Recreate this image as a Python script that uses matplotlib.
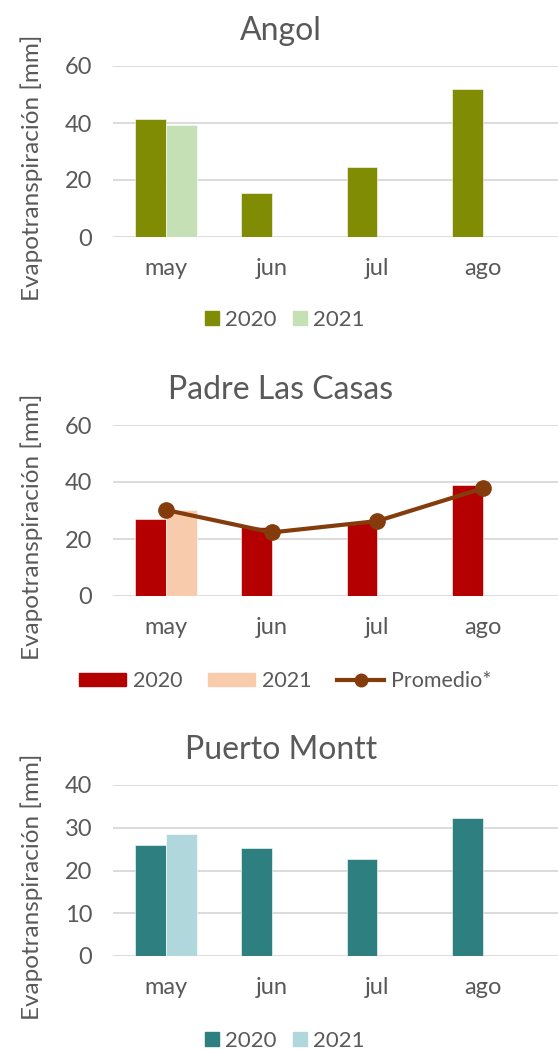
import numpy as np
import matplotlib.pyplot as plt
from matplotlib.lines import Line2D
from matplotlib.patches import Patch

plt.rcParams['font.family'] = ['Lato', 'DejaVu Sans']

meses = ['may', 'jun', 'jul', 'ago']

angol_2020 = [41.4, 15.3, 24.4, 52.0]
angol_2021 = [39.3, np.nan, np.nan, np.nan]

plc_2020 = [27.0, 24.1, 26.0, 38.8]
plc_2021 = [30.2, np.nan, np.nan, np.nan]
plc_promedio = [30.2, 22.3, 26.3, 37.8]

pm_2020 = [25.9, 25.3, 22.8, 32.3]
pm_2021 = [28.5, np.nan, np.nan, np.nan]

W, H = 558, 1049
gris = '#595959'
fig = plt.figure(figsize=(W / 100, H / 100), dpi=100)

def px(x0, y_top, x1, y_bot):
    return [x0 / W, 1 - y_bot / H, (x1 - x0) / W, (y_bot - y_top) / H]

def panel(y_top, y_bot, titulo, ymax, ystep, s20, s21, c20, c21, prom=None):
    ax = fig.add_axes(px(113, y_top, 558, y_bot))
    x = np.arange(len(meses))
    w = 0.29
    ax.bar(x, s20, width=-w, align='edge', color=c20, edgecolor='white', linewidth=0.4, zorder=2)
    ax.bar(x, s21, width=w, align='edge', color=c21, edgecolor='white', linewidth=0.4, zorder=2)
    if prom is not None:
        ax.plot(x, prom, color='#843C0C', lw=3, marker='o', ms=11, zorder=3)
    ax.set_xlim(-0.5, 3.708)
    ax.set_ylim(0, ymax)
    ax.set_yticks(np.arange(0, ymax + 1, ystep))
    ax.set_xticks(x)
    ax.set_xticklabels(meses)
    ax.grid(axis='y', color='#D9D9D9', lw=1.3, zorder=0)
    for s in ax.spines.values():
        s.set_visible(False)
    ax.tick_params(length=0, labelsize=17, colors=gris)
    ax.tick_params(axis='y', pad=15)
    ax.tick_params(axis='x', pad=15)
    fig.text(281 / W, 1 - (y_top - 35) / H, titulo, ha='center', va='center',
             fontsize=23, color=gris)
    fig.text(32 / W, 1 - (y_top + 102) / H, 'Evapotranspiración [mm]', rotation=90,
             ha='center', va='center', fontsize=17.5, color=gris)
    return ax

panel(66, 237, 'Angol', 60, 20, angol_2020, angol_2021, '#7F8C04', '#C5E0B4')
fig.legend(handles=[Patch(color='#7F8C04', label='2020'), Patch(color='#C5E0B4', label='2021')],
           loc='center', bbox_to_anchor=(285 / W, 1 - 320 / H), ncol=2, frameon=False,
           fontsize=16, labelcolor=gris, handlelength=0.6, handleheight=0.6,
           handletextpad=0.3, columnspacing=0.75)

panel(425, 596, 'Padre Las Casas', 60, 20, plc_2020, plc_2021, '#B40000', '#F8CBAD', plc_promedio)
fig.legend(handles=[Patch(color='#B40000', label='2020'), Patch(color='#F8CBAD', label='2021'),
                    Line2D([], [], color='#843C0C', lw=3, marker='o', ms=9, label='Promedio*')],
           loc='center', bbox_to_anchor=(285 / W, 1 - 681 / H), ncol=3, frameon=False,
           fontsize=15.5, labelcolor=gris, handlelength=2.2, handleheight=0.6,
           handletextpad=0.3, columnspacing=1.2)

panel(785, 956, 'Puerto Montt', 40, 10, pm_2020, pm_2021, '#2E7F7F', '#B0D7DC')
fig.legend(handles=[Patch(color='#2E7F7F', label='2020'), Patch(color='#B0D7DC', label='2021')],
           loc='center', bbox_to_anchor=(285 / W, 1 - 1041 / H), ncol=2, frameon=False,
           fontsize=16, labelcolor=gris, handlelength=0.6, handleheight=0.6,
           handletextpad=0.3, columnspacing=0.75)

fig.savefig('out.png', dpi=100)
